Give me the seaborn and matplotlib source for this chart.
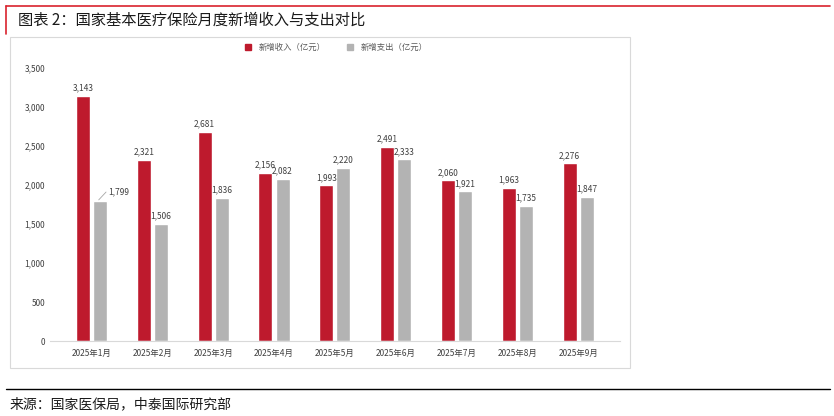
import matplotlib
matplotlib.use("Agg")
import matplotlib.pyplot as plt
import seaborn as sns
import pandas as pd
from matplotlib.patches import Rectangle
from matplotlib.lines import Line2D

months = ["2025年1月", "2025年2月", "2025年3月", "2025年4月", "2025年5月",
          "2025年6月", "2025年7月", "2025年8月", "2025年9月"]
income = [3143, 2321, 2681, 2156, 1993, 2491, 2060, 1963, 2276]
expense = [1799, 1506, 1836, 2082, 2220, 2333, 1921, 1735, 1847]
series = ["新增收入（亿元）", "新增支出（亿元）"]
colors = ["#BE1A2D", "#B3B3B3"]

sns.set_style("white")
plt.rcParams['font.family'] = ['Noto Sans CJK SC', 'DejaVu Sans']

df = pd.DataFrame({"month": months * 2,
                   "value": income + expense,
                   "series": [series[0]] * 9 + [series[1]] * 9})

fig = plt.figure(figsize=(8.34, 4.16), dpi=100)
ax = fig.add_axes([0.06, 0.18, 0.683, 0.657])
sns.barplot(data=df, x="month", y="value", hue="series", palette=colors,
            width=0.56, gap=0.18, saturation=1, ax=ax, legend=False)

ax.set_ylim(0, 3500)
ax.set_yticks(range(0, 3501, 500))
ax.set_yticklabels([f"{v:,}" for v in range(0, 3501, 500)], fontsize=6, color="#404040")
ax.tick_params(axis="x", labelsize=6, colors="#404040", length=0, pad=6)
ax.tick_params(axis="y", length=0)
ax.set_xlabel("")
ax.set_ylabel("")
for s in ["top", "right", "left"]:
    ax.spines[s].set_visible(False)
ax.spines["bottom"].set_color("#D9D9D9")

for i, cont in enumerate(ax.containers):
    for j, bar in enumerate(cont):
        v = int(round(bar.get_height()))
        x = bar.get_x() + bar.get_width() / 2
        if i == 1 and j == 0:
            ax.plot([x - 0.02, x + 0.1], [v + 10, v + 110], color="#A6A6A6", lw=0.6)
            ax.text(x + 0.14, v + 110, f"{v:,}", ha="left", va="center", fontsize=6, color="#404040")
            continue
        ax.text(x, v + 40, f"{v:,}", ha="center", va="bottom", fontsize=6, color="#404040")

handles = [Line2D([], [], marker="s", ls="", color=c, markersize=4) for c in colors]
fig.legend(handles, series, loc="center", bbox_to_anchor=(0.40, 0.885), ncol=2,
           frameon=False, fontsize=6, handletextpad=0.2, columnspacing=2,
           labelcolor="#595959")

# chart frame
fig.add_artist(Rectangle((10 / 834, 1 - 368 / 416), 620 / 834, 331 / 416,
                         transform=fig.transFigure, fill=False, ec="#D9D9D9", lw=0.8))
# title decorations
fig.add_artist(Line2D([6 / 834, 830 / 834], [1 - 6 / 416] * 2, transform=fig.transFigure,
                      color="#D9232E", lw=1.2))
fig.add_artist(Line2D([6 / 834] * 2, [1 - 6 / 416, 1 - 34 / 416], transform=fig.transFigure,
                      color="#D9232E", lw=1.2))
fig.text(18 / 834, 1 - 20 / 416, "图表 2：国家基本医疗保险月度新增收入与支出对比",
         fontsize=11, va="center", ha="left", color="#1a1a1a")
fig.add_artist(Line2D([6 / 834, 830 / 834], [1 - 389 / 416] * 2, transform=fig.transFigure,
                      color="black", lw=1.0))
fig.text(10 / 834, 1 - 404 / 416, "来源：国家医保局，中泰国际研究部",
         fontsize=10, va="center", ha="left", color="#1a1a1a")

fig.savefig("out.png", dpi=100)
